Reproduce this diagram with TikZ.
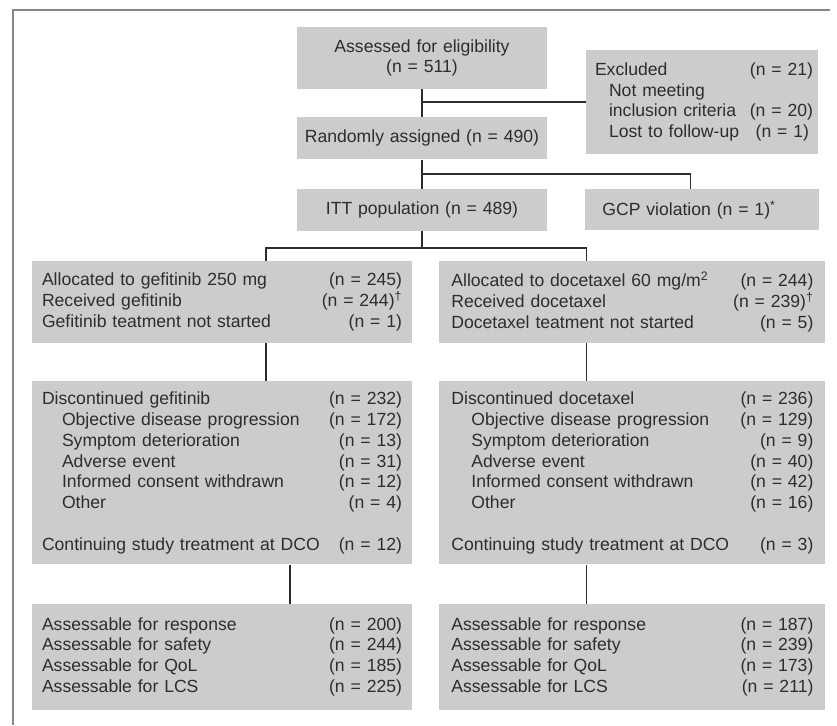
\documentclass[tikz,border=0pt]{standalone}
\usepackage{fontspec}
\setmainfont{Liberation Sans}
\usepackage{xcolor}
\usepackage{tikz}
\usetikzlibrary{positioning}
\definecolor{boxgray}{RGB}{204, 204, 204}
\definecolor{inkgray}{RGB}{45, 45, 45}
\definecolor{framegray}{RGB}{135, 135, 135}
\newcommand{\nrow}[2]{#1\hfill#2}
\newcommand{\subind}[1][20pt]{\hspace*{#1}}

\begin{document}
\begin{tikzpicture}[
    x=1pt, y=-1pt,
    box/.style={
        rectangle, fill=boxgray, text=inkgray,
        inner ysep=0pt, font={\fontsize{17.6}{20.8}\selectfont}
    },
    topbox/.style={box, text width=244pt, inner xsep=3pt, align=center},
    leftbox/.style={box, text width=360pt, inner xsep=10pt, align=left},
    rightbox/.style={box, text width=362pt, inner xsep=12pt, align=left},
    link/.style={draw=inkgray, line width=1.8pt},
    frameline/.style={draw=framegray, line width=2pt}
]
    \useasboundingbox (0,0) rectangle (837,725);
    \draw[frameline] (830,10) -- (13,10) -- (13,725);

    \node[topbox, minimum height=62pt] (assessed) at (422,58) {Assessed for eligibility\\(n = 511)};
    \node[topbox, minimum height=42pt, below=28pt of assessed] (random) {Randomly assigned (n = 490)};
    \node[topbox, minimum height=42pt, below=29pt of random] (itt) {ITT population (n = 489)};
    \node[box, text width=222pt, inner xsep=5pt, align=left, minimum height=104pt] (excluded) at (702,102)
        {\nrow{\hspace*{4pt}Excluded}{(n = 21)\hspace*{4pt}}\\
         \subind[18pt]Not meeting\\
         \subind[18pt]\nrow{inclusion criteria}{(n = 20)\hspace*{4pt}}\\
         \subind[18pt]\nrow{Lost to follow-up}{(n = 1)\hspace*{4pt}}};
    \node[box, text width=200pt, inner xsep=17pt, align=left, minimum height=41pt, right=38pt of itt] (gcp)
        {GCP violation (n = 1)\textsuperscript{*}};

    \node[leftbox, minimum height=82pt] (gefalloc) at (222,302)
        {\nrow{Allocated to gefitinib 250 mg}{(n = 245)}\\
         \nrow{Received gefitinib}{(n = 244)\textsuperscript{†}}\\
         \nrow{Gefitinib teatment not started}{(n = 1)}};
    \node[rightbox, minimum height=82pt, right=27pt of gefalloc] (docalloc)
        {\nrow{Allocated to docetaxel 60 mg/m\textsuperscript{2}}{(n = 244)}\\
         \nrow{Received docetaxel}{(n = 239)\textsuperscript{†}}\\
         \nrow{Docetaxel teatment not started}{(n = 5)}};

    \node[leftbox, minimum height=183pt, below=38pt of gefalloc] (gefdisc)
        {\nrow{Discontinued gefitinib}{(n = 232)}\\
         \subind\nrow{Objective disease progression}{(n = 172)}\\
         \subind\nrow{Symptom deterioration}{(n = 13)}\\
         \subind\nrow{Adverse event}{(n = 31)}\\
         \subind\nrow{Informed consent withdrawn}{(n = 12)}\\
         \subind\nrow{Other}{(n = 4)}\\[20.8pt]
         \nrow{Continuing study treatment at DCO}{(n = 12)}};
    \node[rightbox, minimum height=183pt, right=27pt of gefdisc] (docdisc)
        {\nrow{Discontinued docetaxel}{(n = 236)}\\
         \subind\nrow{Objective disease progression}{(n = 129)}\\
         \subind\nrow{Symptom deterioration}{(n = 9)}\\
         \subind\nrow{Adverse event}{(n = 40)}\\
         \subind\nrow{Informed consent withdrawn}{(n = 42)}\\
         \subind\nrow{Other}{(n = 16)}\\[20.8pt]
         \nrow{Continuing study treatment at DCO}{(n = 3)}};

    \node[leftbox, minimum height=106pt, below=39pt of gefdisc] (gefeval)
        {\nrow{Assessable for response}{(n = 200)}\\
         \nrow{Assessable for safety}{(n = 244)}\\
         \nrow{Assessable for QoL}{(n = 185)}\\
         \nrow{Assessable for LCS}{(n = 225)}};
    \node[rightbox, minimum height=106pt, right=27pt of gefeval] (doceval)
        {\nrow{Assessable for response}{(n = 187)}\\
         \nrow{Assessable for safety}{(n = 239)}\\
         \nrow{Assessable for QoL}{(n = 173)}\\
         \nrow{Assessable for LCS}{(n = 211)}};

    \draw[link] (assessed) -- (random);
    \draw[link] (assessed.south |- excluded.west) -- (excluded.west);
    \draw[link] (random) -- (itt);
    \draw[link] ([yshift=-14pt]random.south) -| ([xshift=-12pt]gcp.north);
    \draw[link] (itt) -- ([yshift=-17pt]itt.south);
    \draw[link] ([xshift=44pt]gefalloc.north) |- ([yshift=-17pt]itt.south) -| ([xshift=-46pt]docalloc.north);
    \draw[link] ([xshift=44pt]gefalloc.south) -- ([xshift=44pt]gefdisc.north);
    \draw[link] ([xshift=-46pt]docalloc.south) -- ([xshift=-46pt]docdisc.north);
    \draw[link] ([xshift=68pt]gefdisc.south) -- ([xshift=68pt]gefeval.north);
    \draw[link] ([xshift=-46pt]docdisc.south) -- ([xshift=-46pt]doceval.north);
\end{tikzpicture}
\end{document}
